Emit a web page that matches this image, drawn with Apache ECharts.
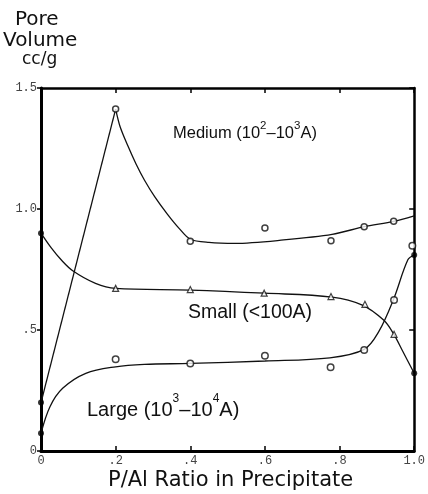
<!DOCTYPE html>
<html>
<head>
<meta charset="utf-8">
<script src="https://cdn.jsdelivr.net/npm/echarts@6/dist/echarts.min.js"></script>
<style>
  html, body { margin: 0; padding: 0; background: #fff; }
  #chart { width: 428px; height: 494px; }
</style>
</head>
<body>
<div id="chart"></div>
<script>
// Axis ticks
const xTickLabels = { '0': '0', '0.2': '.2', '0.4': '.4', '0.6': '.6', '0.8': '.8', '1': '1.0' };
const yTickLabels = { '0': '0', '0.5': '.5', '1': '1.0', '1.5': '1.5' };

// Medium pores (10^2-10^3 A): measured points and fitted curve
const mediumPoints = [[0.2, 1.413], [0.4, 0.867], [0.6, 0.921], [0.777, 0.869], [0.866, 0.927], [0.945, 0.949]];
const mediumRise = [[0, 0.2], [0.2, 1.413]];
const mediumCurve = [[0.2, 1.413], [0.212, 1.34], [0.233, 1.26], [0.255, 1.185], [0.277, 1.12], [0.305, 1.05],
  [0.338, 0.98], [0.37, 0.92], [0.4, 0.875], [0.45, 0.862], [0.52, 0.858],
  [0.65, 0.872], [0.78, 0.895], [0.866, 0.927], [0.945, 0.949], [1.0, 0.972]];

// Small pores (<100 A)
const smallPoints = [[0.2, 0.672], [0.4, 0.667], [0.598, 0.652], [0.777, 0.638], [0.868, 0.606], [0.946, 0.482]];
const smallCurve = [[0, 0.9], [0.027, 0.84], [0.054, 0.79], [0.085, 0.745], [0.146, 0.693], [0.2, 0.672],
  [0.4, 0.665], [0.6, 0.652], [0.78, 0.636], [0.861, 0.603], [0.918, 0.541], [0.944, 0.486], [0.97, 0.41], [1.0, 0.321]];

// Large pores (10^3-10^4 A)
const largePoints = [[0.2, 0.379], [0.4, 0.362], [0.6, 0.394], [0.776, 0.346], [0.866, 0.417], [0.946, 0.624], [0.995, 0.848]];
const largeCurve = [[0, 0.073], [0.024, 0.183], [0.058, 0.259], [0.12, 0.321], [0.2, 0.348], [0.277, 0.358],
  [0.4, 0.362], [0.6, 0.372], [0.774, 0.385], [0.866, 0.42], [0.905, 0.493], [0.944, 0.624], [0.983, 0.79], [1.0, 0.81]];

// Solid end points
const solidPoints = [[0, 0.2], [0, 0.9], [0, 0.073], [1.0, 0.321], [1.0, 0.81]];

const TXT = 'Liberation Sans, Arial, sans-serif';
const WIDE = 'DejaVu Sans, sans-serif';
const MONO = 'Liberation Mono, monospace';

function curveSeries(data, smooth) {
  return {
    type: 'line', data: data, smooth: smooth, showSymbol: false, silent: true,
    lineStyle: { color: '#111', width: 1.3 }, z: 2
  };
}

function openMarks(data, symbol, size) {
  return {
    type: 'scatter', data: data, symbol: symbol, symbolSize: size, z: 4,
    itemStyle: { color: '#fff', borderColor: '#111', borderWidth: 1.5 }
  };
}

// Label with superscripts built from rich-text fragments
function supLabel(x, y, parts, fs, sfs, raise) {
  let text = '';
  parts.forEach(p => { text += '{' + (p[1] ? 's' : 'n') + '|' + p[0] + '}'; });
  return {
    type: 'text', left: x, top: y, z: 10,
    style: {
      text: text, fill: '#111',
      rich: {
        n: { fontFamily: TXT, fontSize: fs, lineHeight: fs, verticalAlign: 'bottom', fill: '#111' },
        s: { fontFamily: TXT, fontSize: sfs, lineHeight: sfs, verticalAlign: 'bottom', padding: [0, 0, raise, 0], fill: '#111' }
      }
    }
  };
}

function frameAxis(extra) {
  return Object.assign({
    type: 'value',
    axisLine: { onZero: false, lineStyle: { color: '#000', width: 3 } },
    splitLine: { show: false }
  }, extra);
}

const chart = echarts.init(document.getElementById('chart'), null, { renderer: 'canvas' });

chart.setOption({
  animation: false,
  backgroundColor: '#fff',
  grid: { left: 41, right: 5, top: 88, bottom: 43 },
  xAxis: [
    frameAxis({
      min: 0, max: 1, interval: 0.2, position: 'bottom',
      axisTick: { inside: true, length: 5, lineStyle: { color: '#000', width: 1.5 } },
      axisLabel: {
        margin: 4, color: '#444', fontFamily: MONO, fontSize: 12,
        formatter: v => xTickLabels[String(+v.toFixed(1))]
      }
    }),
    frameAxis({
      min: 0, max: 1, interval: 0.2, position: 'top',
      axisLine: { onZero: false, lineStyle: { color: '#000', width: 2.5 } },
      axisTick: { inside: true, length: 5, lineStyle: { color: '#000', width: 1.5 } },
      axisLabel: { show: false }
    })
  ],
  yAxis: [
    frameAxis({
      min: 0, max: 1.5, interval: 0.5, position: 'left',
      axisTick: { inside: false, length: 4, lineStyle: { color: '#000', width: 1.5 } },
      axisLabel: {
        margin: 4, color: '#444', fontFamily: MONO, fontSize: 12,
        formatter: v => yTickLabels[String(+v.toFixed(1))]
      }
    }),
    frameAxis({
      min: 0, max: 1.5, interval: 0.5, position: 'right',
      axisLine: { onZero: false, lineStyle: { color: '#000', width: 2.5 } },
      axisTick: { inside: true, length: 5, lineStyle: { color: '#000', width: 1.5 } },
      axisLabel: { show: false }
    })
  ],
  series: [
    curveSeries(mediumRise, false),
    curveSeries(mediumCurve, 0.3),
    curveSeries(smallCurve, 0.35),
    curveSeries(largeCurve, 0.35),
    openMarks(mediumPoints, 'circle', 6),
    openMarks(largePoints, 'circle', 6.5),
    {
      type: 'scatter', data: smallPoints, symbol: 'triangle', symbolSize: 6, z: 4,
      itemStyle: { color: '#fff', borderColor: '#111', borderWidth: 1.2 }
    },
    {
      type: 'scatter', data: solidPoints, symbol: 'circle', symbolSize: 6, z: 5,
      itemStyle: { color: '#000' }
    }
  ],
  graphic: [
    { type: 'text', left: 15, top: 10, style: { text: 'Pore', fontFamily: WIDE, fontSize: 20, fill: '#111' } },
    { type: 'text', left: 3, top: 31, style: { text: 'Volume', fontFamily: WIDE, fontSize: 20, fill: '#111' } },
    { type: 'text', left: 22, top: 51, style: { text: 'cc/g', fontFamily: WIDE, fontSize: 17, fill: '#111' } },
    { type: 'text', left: 108, top: 470, style: { text: 'P/Al Ratio in Precipitate', fontFamily: WIDE, fontSize: 21, fill: '#111' } },
    supLabel(173, 120, [['Medium (10'], ['2', 1], ['\u201310'], ['3', 1], ['A)']], 16.5, 11.5, 10),
    supLabel(188, 303, [['Small (<100A)']], 19.5, 12, 0),
    supLabel(87, 393, [['Large (10'], ['3', 1], ['\u201310'], ['4', 1], ['A)']], 20, 12, 15)
  ]
});
</script>
</body>
</html>
